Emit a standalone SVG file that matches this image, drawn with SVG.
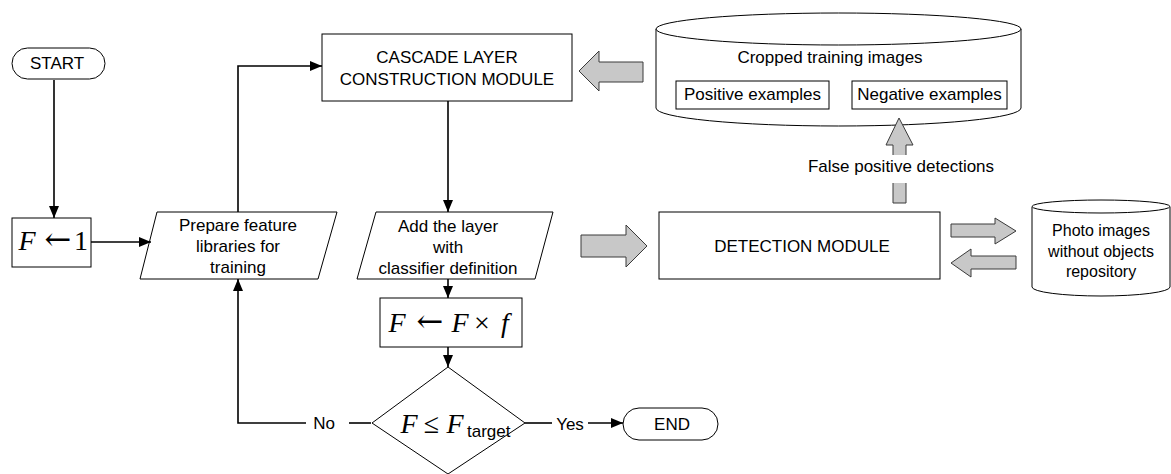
<svg xmlns="http://www.w3.org/2000/svg" width="1171" height="474" viewBox="0 0 1171 474">
<defs>
<style>
.lbl{font-family:"Liberation Sans",Arial,sans-serif;font-size:17px;fill:#000;text-anchor:middle}
.sm{font-size:16px}
.math{font-family:"Liberation Serif","DejaVu Serif",serif;font-size:28px;fill:#000;text-anchor:middle}
.it{font-style:italic}
.arr{font-family:"DejaVu Serif",serif;font-size:32px}
.node{fill:#fff;stroke:#000;stroke-width:1}
.block{fill:#c8c8c8;stroke:#3a3a3a;stroke-width:1}
.conn{fill:none;stroke:#000;stroke-width:1.6}
</style>
<marker id="ah" markerUnits="userSpaceOnUse" markerWidth="12" markerHeight="10" viewBox="0 0 12 10" refX="12" refY="5" orient="auto">
<path d="M0,0 L12,5 L0,10 Z" fill="#000"/>
</marker>
</defs>
<rect width="1171" height="474" fill="#fff"/>

<g id="start">
<rect class="node" x="12" y="48" width="93" height="31" rx="15.5"/>
<text class="lbl" x="57" y="69">START</text>
</g>

<g id="init">
<rect class="node" x="12" y="218" width="79" height="49"/>
<text class="math" y="250" font-size="26"><tspan class="it" x="27">F</tspan><tspan class="arr" x="58" font-size="30">←</tspan><tspan x="81">1</tspan></text>
</g>

<g id="prepare">
<polygon class="node" points="157,212 337,212 318,279 140,279"/>
<text class="lbl" x="238" y="231">Prepare feature</text>
<text class="lbl" x="238" y="252">libraries for</text>
<text class="lbl" x="238" y="273">training</text>
</g>

<g id="cascade">
<rect class="node" x="322" y="34" width="250" height="67"/>
<text class="lbl" x="447" y="63">CASCADE LAYER</text>
<text class="lbl" x="447" y="85">CONSTRUCTION MODULE</text>
</g>

<g id="addlayer">
<polygon class="node" points="376,212 553,212 535,279 357,279"/>
<text class="lbl" x="448" y="232">Add the layer</text>
<text class="lbl" x="448" y="253">with</text>
<text class="lbl" x="448" y="274">classifier definition</text>
</g>

<g id="update">
<rect class="node" x="380" y="298" width="142" height="49"/>
<text class="math" y="332"><tspan class="it" x="397">F</tspan><tspan class="arr" x="430">←</tspan><tspan class="it" x="460">F</tspan><tspan x="482">×</tspan><tspan class="it" x="505">f</tspan></text>
</g>

<g id="decision">
<polygon class="node" points="448,367 525,423 448,474 372,423"/>
<text class="math" y="433"><tspan class="it" x="409">F</tspan><tspan x="431.5">≤</tspan><tspan class="it" x="455">F</tspan></text>
<text class="lbl" x="467" y="437" font-size="13" style="text-anchor:start">target</text>
</g>

<g id="end">
<rect class="node" x="623" y="408" width="95" height="32" rx="16"/>
<text class="lbl" x="672" y="430">END</text>
</g>

<g id="detection">
<rect class="node" x="659" y="212" width="281" height="67"/>
<text class="lbl" x="802" y="252">DETECTION MODULE</text>
</g>

<g id="cropped">
<path class="node" d="M656,29 V108 A182.5,18 0 0 0 1021,108 V29"/>
<ellipse class="node" cx="838.5" cy="29" rx="182.5" ry="16"/>
<text class="lbl" x="830" y="63">Cropped training images</text>
<rect class="node" x="676" y="81" width="153" height="28"/>
<text class="lbl" x="752.5" y="100">Positive examples</text>
<rect class="node" x="852" y="81" width="155" height="28"/>
<text class="lbl" x="929.5" y="100">Negative examples</text>
</g>

<g id="photos">
<path class="node" d="M1032,206.5 V287 A69,9 0 0 0 1170,287 V206.5"/>
<ellipse class="node" cx="1101" cy="206.5" rx="69" ry="6.5"/>
<text class="lbl sm" x="1101" y="236">Photo images</text>
<text class="lbl sm" x="1101" y="257">without objects</text>
<text class="lbl sm" x="1101" y="277">repository</text>
</g>

<g id="connectors">
<line class="conn" x1="54" y1="80" x2="54" y2="218" marker-end="url(#ah)"/>
<line class="conn" x1="91" y1="242" x2="151" y2="242" marker-end="url(#ah)"/>
<polyline class="conn" points="238,212 238,66 322,66" marker-end="url(#ah)"/>
<line class="conn" x1="448" y1="101" x2="448" y2="212" marker-end="url(#ah)"/>
<line class="conn" x1="448" y1="279" x2="448" y2="298" marker-end="url(#ah)"/>
<line class="conn" x1="448" y1="347" x2="448" y2="367" marker-end="url(#ah)"/>
<line class="conn" x1="371" y1="423" x2="349" y2="423"/>
<polyline class="conn" points="306,423 238,423 238,279" marker-end="url(#ah)"/>
<text class="lbl" x="324" y="429">No</text>
<line class="conn" x1="525" y1="423" x2="552" y2="423"/>
<line class="conn" x1="588" y1="423" x2="623" y2="423" marker-end="url(#ah)"/>
<text class="lbl" x="570" y="430">Yes</text>
<polygon class="block" points="579,71 599,51 599,62 643,62 643,82 599,82 599,91"/>
<polygon class="block" points="899,118 913,145 906,145 906,203 893,203 893,145 886,145"/>
<rect x="884" y="155" width="32" height="28" fill="#fff"/>
<text class="lbl" x="901" y="172">False positive detections</text>
<polygon class="block" points="581,235 626,235 626,225 647,246 626,267 626,257 581,257"/>
<polygon class="block" points="951,224 995,224 995,218 1016,231 995,244 995,237 951,237"/>
<polygon class="block" points="951,263 971,249 971,256 1016,256 1016,269 971,269 971,277"/>
</g>
</svg>
